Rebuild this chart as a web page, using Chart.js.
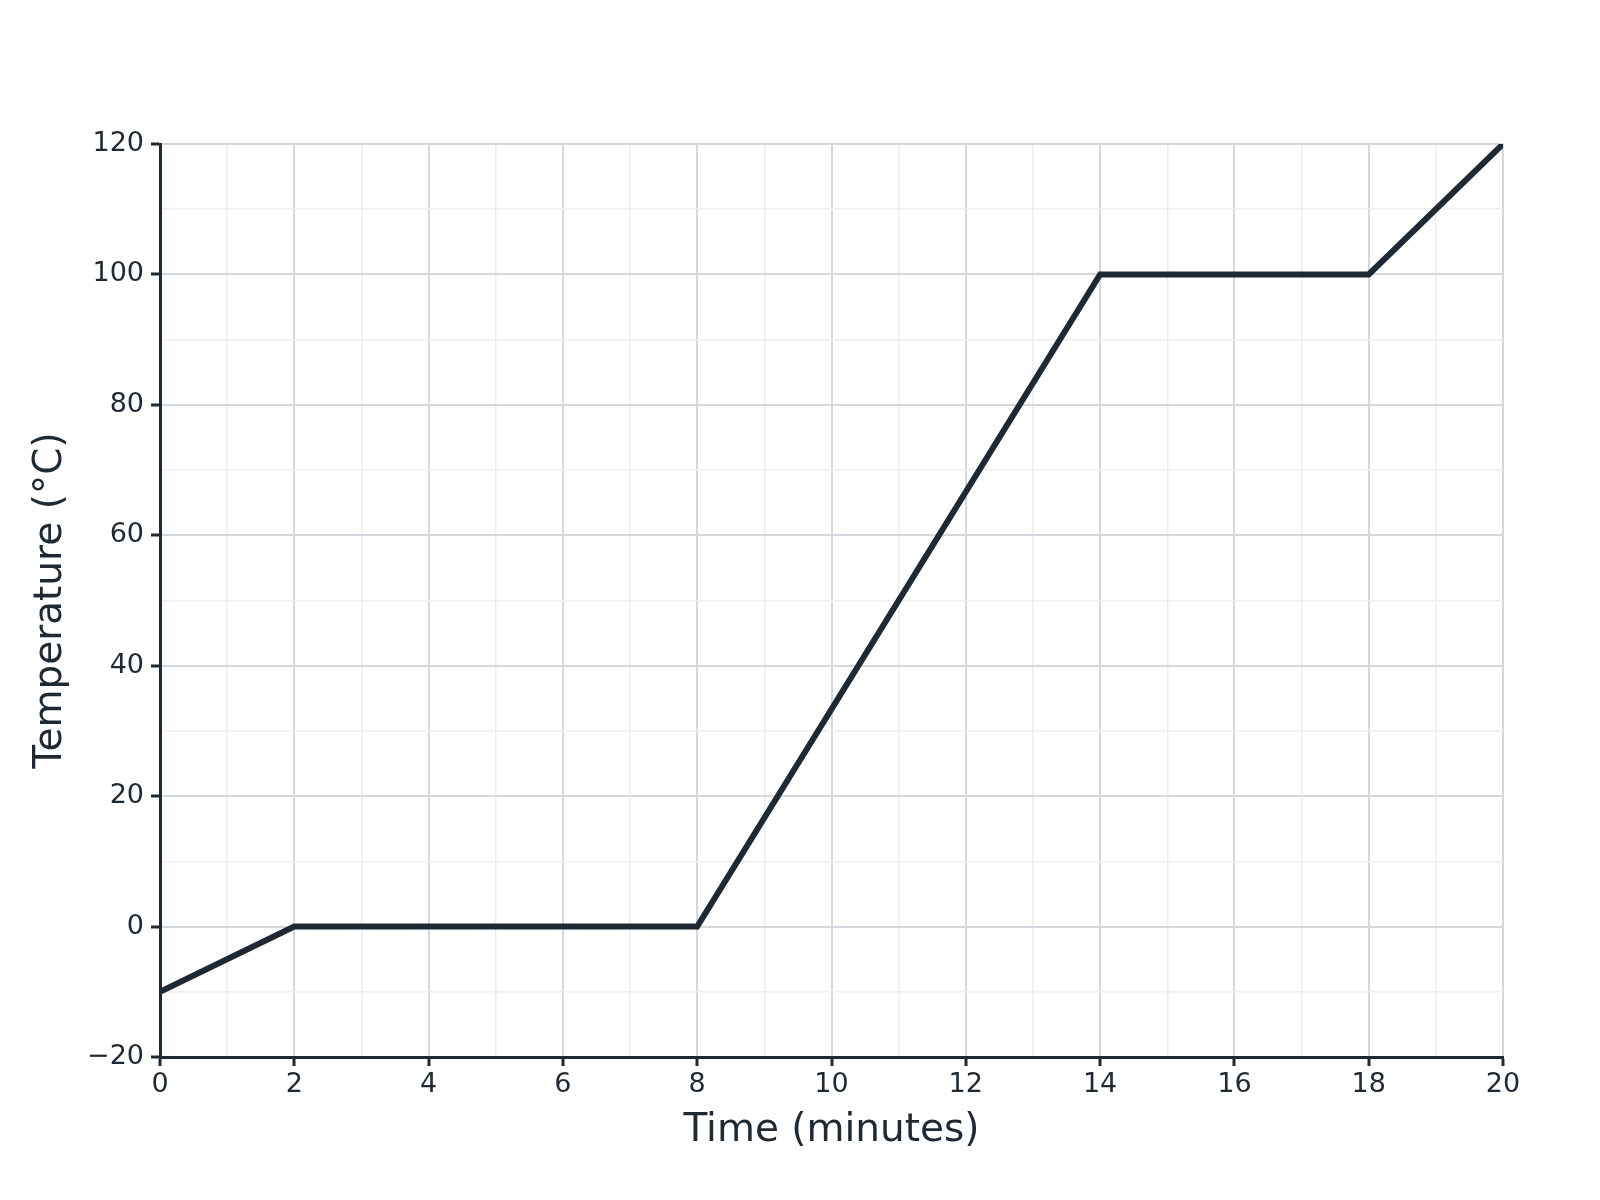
<!DOCTYPE html>
<html>
<head>
<meta charset="utf-8">
<script src="https://cdn.jsdelivr.net/npm/chart.js@4.4.1/dist/chart.umd.min.js"></script>
<style>
  html, body { margin: 0; padding: 0; background: #ffffff; }
  canvas { display: block; }
</style>
</head>
<body>
<canvas id="c" width="1600" height="1200"></canvas>
<script>
const timeMinutes = [0, 2, 8, 14, 18, 20];
const temperatureC = [-10, 0, 0, 100, 100, 120];
const xMajorTicks = [0, 2, 4, 6, 8, 10, 12, 14, 16, 18, 20];
const yMajorTicks = [-20, 0, 20, 40, 60, 80, 100, 120];

const DARK = '#1f2933';
const MAJOR_GRID = '#d5d8de';
const MINOR_GRID = '#eceef1';
const FONT = 'DejaVu Sans';

const isMajorX = v => xMajorTicks.includes(v);
const isMajorY = v => yMajorTicks.includes(v);
const fmt = v => String(v).replace('-', '\u2212');

new Chart(document.getElementById('c'), {
  type: 'line',
  data: {
    datasets: [{
      data: timeMinutes.map((t, i) => ({ x: t, y: temperatureC[i] })),
      borderColor: DARK,
      borderWidth: 6,
      pointRadius: 0,
      tension: 0,
      fill: false
    }]
  },
  options: {
    responsive: false,
    devicePixelRatio: 1,
    animation: false,
    layout: { padding: { top: 144, right: 97, left: 0, bottom: 0 } },
    plugins: { legend: { display: false }, tooltip: { enabled: false } },
    scales: {
      x: {
        type: 'linear',
        min: 0, max: 20,
        afterFit: s => { s.height = 143; },
        border: { color: DARK, width: 3 },
        grid: {
          color: c => isMajorX(c.tick.value) ? MAJOR_GRID : MINOR_GRID,
          lineWidth: c => isMajorX(c.tick.value) ? 2 : 1.5,
          tickColor: c => isMajorX(c.tick.value) ? DARK : 'rgba(0,0,0,0)',
          tickLength: 9,
          tickWidth: 3
        },
        ticks: {
          stepSize: 1,
          autoSkip: false,
          maxRotation: 0,
          padding: 3,
          color: DARK,
          font: { family: FONT, size: 27 },
          callback: v => isMajorX(v) ? fmt(v) : ''
        },
        title: {
          display: true,
          text: 'Time (minutes)',
          color: DARK,
          font: { family: FONT, size: 39 },
          padding: { top: 0, bottom: 46 }
        }
      },
      y: {
        type: 'linear',
        min: -20, max: 120,
        afterFit: s => { s.width = 160; },
        border: { color: DARK, width: 3 },
        grid: {
          color: c => isMajorY(c.tick.value) ? MAJOR_GRID : MINOR_GRID,
          lineWidth: c => isMajorY(c.tick.value) ? 2 : 1.5,
          tickColor: c => isMajorY(c.tick.value) ? DARK : 'rgba(0,0,0,0)',
          tickLength: 9,
          tickWidth: 3
        },
        ticks: {
          stepSize: 10,
          autoSkip: false,
          padding: 7,
          color: DARK,
          font: { family: FONT, size: 27 },
          callback: v => isMajorY(v) ? fmt(v) : ''
        },
        title: {
          display: true,
          text: 'Temperature (°C)',
          color: DARK,
          font: { family: FONT, size: 39 },
          padding: { top: 27, bottom: 0 }
        }
      }
    }
  }
});
</script>
</body>
</html>
